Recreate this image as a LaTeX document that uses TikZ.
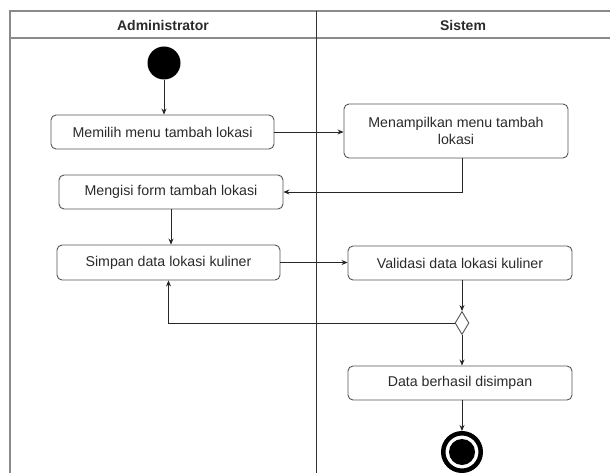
\documentclass[tikz,border=0pt]{standalone}
\usepackage{fontspec}
\setmainfont{Liberation Sans}
\usetikzlibrary{shapes.geometric,arrows.meta}
\definecolor{frame}{HTML}{8A8A8A}
\definecolor{boxline}{HTML}{555555}
\definecolor{txt}{HTML}{2A2A2A}
\tikzset{
  act/.style={draw=boxline, rounded corners=5pt, line width=0.9pt, minimum width=223pt,
    minimum height=34pt, inner sep=2pt, align=center, text=txt,
    font=\fontsize{14.2}{17}\selectfont},
  flow/.style={draw=black!85, line width=0.8pt, -{Stealth[length=6pt,width=5pt]}},
  lanehead/.style={font=\bfseries\fontsize{14}{16}\selectfont, text=txt},
}
\begin{document}
\begin{tikzpicture}[x=1pt,y=-1pt]
\useasboundingbox (0,0) rectangle (610,473);
% swimlane frame
\draw[frame, line width=1.8pt] (10,473) -- (10,11) -- (611,11);
\draw[frame, line width=1.8pt] (10,38) -- (611,38);
\draw[black!80, line width=0.9pt] (316,11) -- (316,474);
\node[lanehead] (hadm) at (163,25) {Administrator};
\node[lanehead] (hsis) at (463,25) {Sistem};
% nodes
\node[circle, fill=black, minimum size=33pt, inner sep=0pt] (start) at (164,63) {};
\node[act] (b1) at (162.5,132) {Memilih menu tambah lokasi};
\node[act, minimum width=224pt, minimum height=54pt] (b4) at (456,131) {Menampilkan menu tambah\\lokasi};
\node[act, minimum width=224pt] (b2) at (171,192) {Mengisi form tambah lokasi};
\node[act, minimum height=35pt] (b3) at (168.5,262.5) {Simpan data lokasi kuliner};
\node[act, minimum width=224pt] (b5) at (460,263) {Validasi data lokasi kuliner};
\node[diamond, draw=boxline, line width=0.9pt, fill=white, minimum width=14pt, minimum height=23pt, inner sep=0pt, aspect=0.6] (dia) at (462,323) {};
\node[act, minimum width=224pt] (b6) at (460,383) {Data berhasil disimpan};
\node[circle, draw=black, line width=4.5pt, minimum size=37.5pt, inner sep=0pt] (end) at (462,452) {};
\fill[black] (end.center) circle (13pt);
% connectors
\draw[flow] (start) -- (start |- b1.north);
\draw[flow] (b1.east) -- (b1.east -| b4.west);
\draw[flow] (dia |- b4.south) -- (dia |- b2.east) -- (b2.east);
\draw[flow] (b2.south) -- (b2.south |- b3.north);
\draw[flow] (b3.east) -- (b3.east -| b5.west);
\draw[flow] (dia |- b5.south) -- (dia.north);
\draw[flow] (dia.west) -- (dia.west -| b3.south) -- (b3.south);
\draw[flow] (dia.south) -- (dia |- b6.north);
\draw[flow] (dia |- b6.south) -- (end.north);
\end{tikzpicture}
\end{document}
